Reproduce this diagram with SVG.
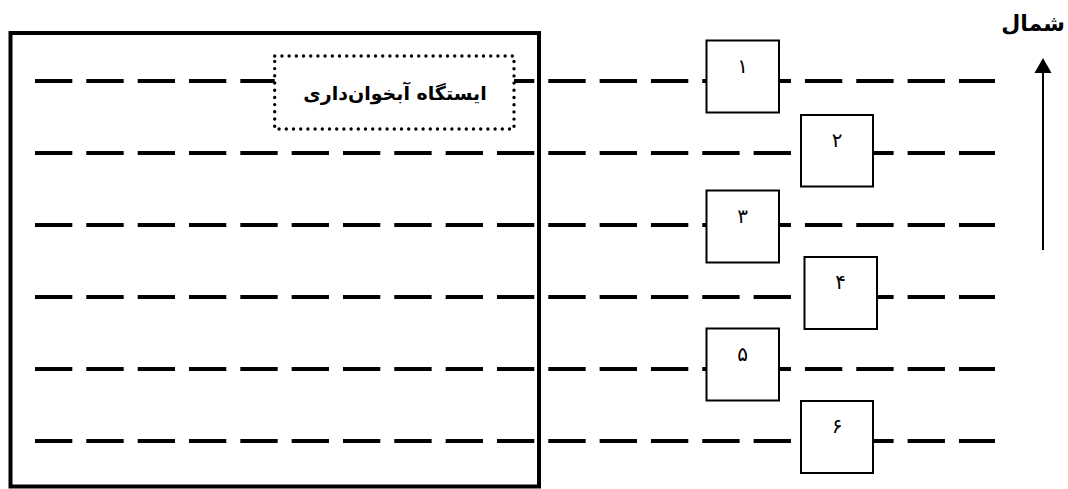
<svg xmlns="http://www.w3.org/2000/svg" width="1068" height="489" viewBox="0 0 1068 489">
<style>
.road{stroke:#000;stroke-width:4;stroke-dasharray:37.33 14;fill:none}
.frame{fill:none;stroke:#000;stroke-width:4}
.box{fill:#fff;stroke:#000;stroke-width:2}
.num{font-family:"DejaVu Sans",sans-serif;font-size:20px;text-anchor:middle;fill:#000}
.lbl{font-family:"DejaVu Sans",sans-serif;font-weight:bold;fill:#000}
</style>
<rect width="1068" height="489" fill="#fff"/>
<g id="frame"><rect class="frame" x="10.5" y="33" width="528.5" height="453.5"/></g>
<g id="lines">
<line class="road" x1="35" y1="81" x2="995" y2="81"/>
<line class="road" x1="35" y1="153" x2="995" y2="153"/>
<line class="road" x1="35" y1="225" x2="995" y2="225"/>
<line class="road" x1="35" y1="297" x2="995" y2="297"/>
<line class="road" x1="35" y1="369" x2="995" y2="369"/>
<line class="road" x1="35" y1="441" x2="995" y2="441"/>
</g>
<g id="station">
<rect x="274.7" y="56" width="239.3" height="73" fill="#fff" stroke="#000" stroke-width="3.4" stroke-dasharray="0 7.2" stroke-linecap="round"/>
<text class="lbl" x="395" y="100" font-size="19" text-anchor="middle">ایستگاه آبخوان‌داری</text>
</g>
<g id="box1"><rect class="box" x="706.5" y="40.5" width="72.5" height="72"/><text class="num" x="742.7" y="72.5">۱</text></g>
<g id="box2"><rect class="box" x="801" y="115" width="72" height="71.5"/><text class="num" x="837" y="147">۲</text></g>
<g id="box3"><rect class="box" x="706.5" y="190.5" width="72.5" height="72"/><text class="num" x="742.7" y="222.5">۳</text></g>
<g id="box4"><rect class="box" x="804.5" y="257" width="72.5" height="72"/><text class="num" x="840.7" y="289">۴</text></g>
<g id="box5"><rect class="box" x="706.5" y="328.5" width="72.5" height="72"/><text class="num" x="742.7" y="360.5">۵</text></g>
<g id="box6"><rect class="box" x="801" y="401" width="72" height="72"/><text class="num" x="837" y="433">۶</text></g>
<g id="north">
<text class="lbl" x="1065" y="31" font-size="22" text-anchor="end">شمال</text>
<line x1="1043" y1="250" x2="1043" y2="72" stroke="#000" stroke-width="2"/>
<path d="M1043 58 L1051.5 73 L1034.5 73 Z" fill="#000"/>
</g>
</svg>
